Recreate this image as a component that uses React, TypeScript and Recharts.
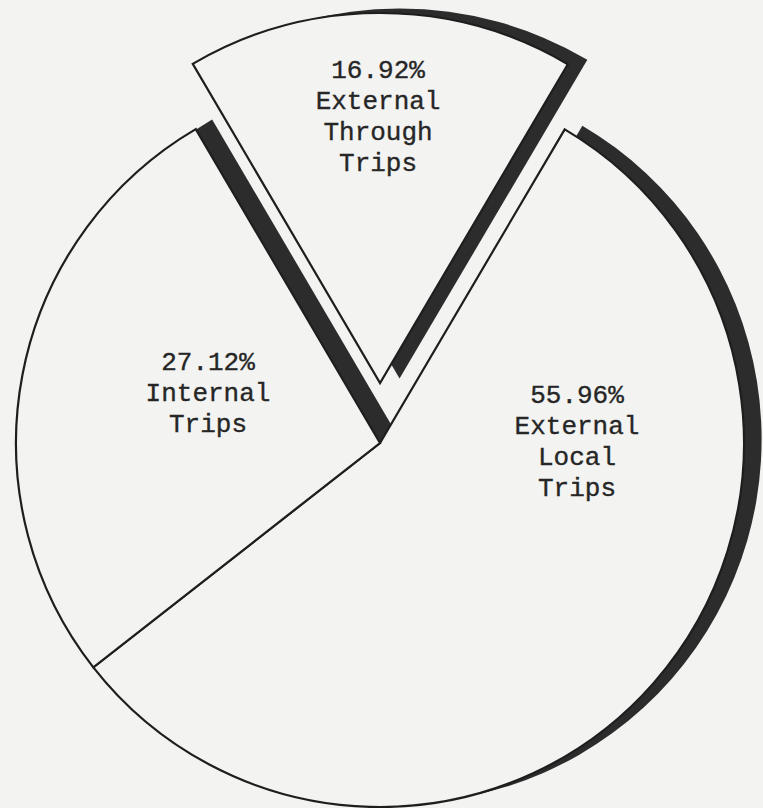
import { PieChart, Pie, Cell } from "recharts"

// trip shares, clockwise from the top right
const categories = ["External Local Trips", "Internal Trips", "External Through Trips"]
const shares = [55.96, 27.12, 16.92]

const data = categories.map((name, i) => ({ name, value: shares[i] }))

const W = 763
const H = 808
const CX = 380
const CY = 443
const R = 364
const EX_R = 370
const START = 59.5
const EXPLODED = 2 // index of the pulled-out slice
const EXPLODE_DIST = 60

const PAPER = "#f3f3f1"
const INK = "#1e1e1e"
const SHADE = "#2c2c2c"
const FONT = "'Courier New', 'Liberation Mono', monospace"

// drop shadow offset behind each slice
const shadowOffset = [
  { dx: 17.6, dy: -3.7 },
  { dx: 16.4, dy: -9.6 },
  { dx: 19.5, dy: -4.5 },
]

// label block position relative to the slice's pie centre
const labelAnchor = [
  { x: 197, y: -40 },
  { x: -172, y: -73 },
  { x: -2, y: -305 },
]

const total = shares.reduce((a, b) => a + b, 0)
const before = shares.slice(0, EXPLODED).reduce((a, b) => a + b, 0)
const midAngle = START - ((before + shares[EXPLODED] / 2) / total) * 360
const EX_CX = CX + EXPLODE_DIST * Math.cos((midAngle * Math.PI) / 180)
const EX_CY = CY - EXPLODE_DIST * Math.sin((midAngle * Math.PI) / 180)

function makeLabel(visible: number[]) {
  return (props: any) => {
    const { index, cx, cy } = props
    if (!visible.includes(index)) return <g key={`lbl-${index}`} />
    const x = cx + labelAnchor[index].x
    const y = cy + labelAnchor[index].y
    const lines = [`${shares[index].toFixed(2)}%`, ...categories[index].split(" ")]
    return (
      <text
        key={`lbl-${index}`}
        x={x}
        y={y}
        textAnchor="middle"
        fontFamily={FONT}
        fontSize={26}
        fill="#262626"
        stroke="#262626"
        strokeWidth={0.35}
      >
        {lines.map((l, k) => (
          <tspan key={k} x={x} dy={k === 0 ? 0 : 31}>
            {l}
          </tspan>
        ))}
      </text>
    )
  }
}

export default function App() {
  return (
    <div
      style={{
        position: "absolute",
        left: 0,
        top: 0,
        width: W,
        height: H,
        overflow: "hidden",
        background: PAPER,
      }}
    >
      <PieChart width={W} height={H} margin={{ top: 0, right: 0, bottom: 0, left: 0 }}>
        {/* shadows */}
        {shadowOffset.map((o, si) => (
          <Pie
            key={`shadow-${si}`}
            data={data}
            dataKey="value"
            nameKey="name"
            cx={(si === EXPLODED ? EX_CX : CX) + o.dx}
            cy={(si === EXPLODED ? EX_CY : CY) + o.dy}
            outerRadius={si === EXPLODED ? EX_R : R}
            startAngle={START}
            endAngle={START - 360}
            isAnimationActive={false}
            labelLine={false}
          >
            {data.map((_, i) => (
              <Cell key={`s-${si}-${i}`} fill={i === si ? SHADE : "none"} stroke="none" />
            ))}
          </Pie>
        ))}

        {/* main pie */}
        <Pie
          data={data}
          dataKey="value"
          nameKey="name"
          cx={CX}
          cy={CY}
          outerRadius={R}
          startAngle={START}
          endAngle={START - 360}
          isAnimationActive={false}
          labelLine={false}
          label={makeLabel([0, 1])}
        >
          {data.map((_, i) => (
            <Cell
              key={`m-${i}`}
              fill={i === EXPLODED ? "none" : PAPER}
              stroke={i === EXPLODED ? "none" : INK}
              strokeWidth={2.2}
            />
          ))}
        </Pie>

        {/* pulled-out slice */}
        <Pie
          data={data}
          dataKey="value"
          nameKey="name"
          cx={EX_CX}
          cy={EX_CY}
          outerRadius={EX_R}
          startAngle={START}
          endAngle={START - 360}
          isAnimationActive={false}
          labelLine={false}
          label={makeLabel([EXPLODED])}
        >
          {data.map((_, i) => (
            <Cell
              key={`e-${i}`}
              fill={i === EXPLODED ? PAPER : "none"}
              stroke={i === EXPLODED ? INK : "none"}
              strokeWidth={2.2}
            />
          ))}
        </Pie>
      </PieChart>
    </div>
  )
}
